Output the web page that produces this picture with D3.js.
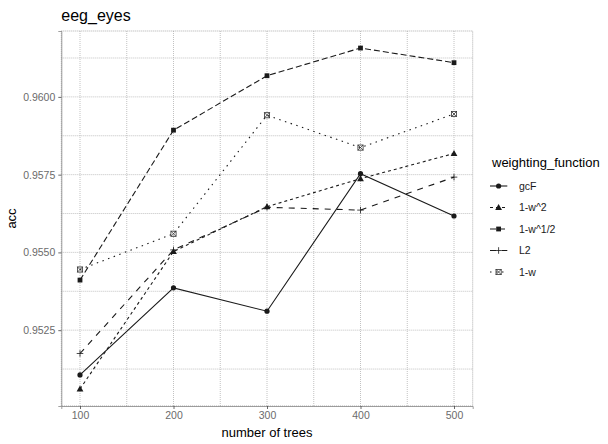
<!DOCTYPE html>
<html>
<head>
<meta charset="utf-8">
<script src="https://cdn.jsdelivr.net/npm/d3@7"></script>
<style>
  body { margin: 0; background: #fff; }
  text { font-family: "Liberation Sans", Arial, sans-serif; }
</style>
</head>
<body>
<script>
var trees = [100, 200, 300, 400, 500];
var seriesNames = ['gcF', '1-w^2', '1-w^1/2', 'L2', '1-w'];
var gcF = [0.95106, 0.95386, 0.95311, 0.95753, 0.95617];
var w2 = [0.95061, 0.95503, 0.95647, 0.95737, 0.95818];
var wHalf = [0.95411, 0.95893, 0.96068, 0.96157, 0.96110];
var l2 = [0.95175, 0.95508, 0.95645, 0.95636, 0.95742];
var w1 = [0.95445, 0.95560, 0.95941, 0.95837, 0.95945];
var yTicks = [0.9525, 0.9550, 0.9575, 0.9600];
var yMinor = [0.95125, 0.95375, 0.95625, 0.95875, 0.96125];
var xTicks = [100, 200, 300, 400, 500];
var xMinor = [150, 250, 350, 450];

var allSeries = [gcF, w2, wHalf, l2, w1];
var dashes = [null, '3,3', '6,3', '6,6', '1.5,4.5'];
var shapes = ['circle', 'triangle', 'square', 'plus', 'squarecross'];
var ink = '#1a1a1a';

var width = 608, height = 444;
var panelLeft = 61.3, panelRight = 472.7, panelTop = 31, panelBottom = 406;

var svg = d3.select('body').append('svg')
    .attr('width', width)
    .attr('height', height);

var xExt = d3.extent(trees);
var xPad = (xExt[1] - xExt[0]) * 0.05;
var x = d3.scaleLinear().domain([xExt[0] - xPad, xExt[1] + xPad]).range([panelLeft, panelRight]);

var yExt = d3.extent(d3.merge(allSeries));
var yPad = (yExt[1] - yExt[0]) * 0.05;
var y = d3.scaleLinear().domain([yExt[0] - yPad, yExt[1] + yPad]).range([panelBottom, panelTop]);

// grid
var grid = svg.append('g');
grid.selectAll('.hg').data(yTicks.concat(yMinor)).enter().append('line')
    .attr('x1', panelLeft).attr('x2', panelRight)
    .attr('y1', (d) => y(d)).attr('y2', (d) => y(d))
    .attr('stroke', '#b3b3b3').attr('stroke-width', 0.8)
    .attr('stroke-dasharray', '1,1');
grid.selectAll('.vg').data(xTicks.concat(xMinor)).enter().append('line')
    .attr('y1', panelTop).attr('y2', panelBottom)
    .attr('x1', (d) => x(d)).attr('x2', (d) => x(d))
    .attr('stroke', '#b3b3b3').attr('stroke-width', 0.8)
    .attr('stroke-dasharray', '1,1');
grid.append('rect')
    .attr('x', panelLeft).attr('y', panelTop)
    .attr('width', panelRight - panelLeft).attr('height', panelBottom - panelTop)
    .attr('fill', 'none').attr('stroke', '#999')
    .attr('stroke-width', 0.8).attr('stroke-dasharray', '1,1');

// axes
var xAxis = svg.append('g')
    .attr('transform', `translate(0,${panelBottom})`)
    .call(d3.axisBottom(x).tickValues(xTicks).tickSize(3).tickPadding(3));
var yAxis = svg.append('g')
    .attr('transform', `translate(${panelLeft},0)`)
    .call(d3.axisLeft(y).tickValues(yTicks).tickSize(3).tickPadding(3)
        .tickFormat(d3.format('.4f')));
[xAxis, yAxis].forEach(function (a) {
    a.select('.domain').attr('stroke', '#888').attr('stroke-width', 0.8);
    a.selectAll('.tick line').attr('stroke', '#444').attr('stroke-width', 0.8);
    a.selectAll('.tick text').attr('fill', '#6b6b6b')
        .style('font-size', '10.5px')
        .style('font-family', '"Liberation Sans", Arial, sans-serif');
});

function drawShape(g, shape, cx, cy) {
    if (shape === 'circle') {
        g.append('circle').attr('cx', cx).attr('cy', cy).attr('r', 2.6).attr('fill', ink);
    } else if (shape === 'triangle') {
        g.append('path').attr('d', d3.symbol(d3.symbolTriangle, 20)())
            .attr('transform', `translate(${cx},${cy + 0.5})`).attr('fill', ink);
    } else if (shape === 'square') {
        g.append('rect').attr('x', cx - 2.4).attr('y', cy - 2.4)
            .attr('width', 4.8).attr('height', 4.8).attr('fill', ink);
    } else if (shape === 'plus') {
        g.append('path').attr('d', `M${cx - 3.3},${cy}H${cx + 3.3}M${cx},${cy - 3.3}V${cy + 3.3}`)
            .attr('stroke', ink).attr('stroke-width', 0.8);
    } else {
        g.append('rect').attr('x', cx - 2.6).attr('y', cy - 2.6)
            .attr('width', 5.2).attr('height', 5.2)
            .attr('fill', 'none').attr('stroke', '#333').attr('stroke-width', 0.8);
        g.append('path').attr('d', `M${cx - 2.6},${cy - 2.6}L${cx + 2.6},${cy + 2.6}M${cx - 2.6},${cy + 2.6}L${cx + 2.6},${cy - 2.6}`)
            .attr('stroke', '#333').attr('stroke-width', 0.8);
    }
}

// lines
var line = d3.line().x((d) => x(d[0])).y((d) => y(d[1]));
var marks = svg.append('g');
allSeries.forEach(function (vals, i) {
    var pts = trees.map((t, j) => [t, vals[j]]);
    marks.append('path')
        .datum(pts)
        .attr('d', line)
        .attr('fill', 'none')
        .attr('stroke', ink)
        .attr('stroke-width', 1.1)
        .attr('stroke-dasharray', dashes[i]);
});
allSeries.forEach(function (vals, i) {
    var g = marks.append('g');
    trees.forEach(function (t, j) {
        drawShape(g, shapes[i], x(t), y(vals[j]));
    });
});

// titles
svg.append('text').attr('x', panelLeft).attr('y', 21)
    .style('font-size', '16px').attr('fill', '#000').text('eeg_eyes');
svg.append('text').attr('x', (panelLeft + panelRight) / 2).attr('y', 437)
    .attr('text-anchor', 'middle').style('font-size', '13px').attr('fill', '#000')
    .text('number of trees');
svg.append('text').attr('transform', `translate(16,${(panelTop + panelBottom) / 2}) rotate(-90)`)
    .attr('text-anchor', 'middle').style('font-size', '13px').attr('fill', '#000')
    .text('acc');

// legend
var legend = svg.append('g');
legend.append('text').attr('x', 492).attr('y', 167)
    .style('font-size', '13px').attr('fill', '#000').text('weighting_function');
var legendY = [186, 207.5, 229, 250.5, 272];
seriesNames.forEach(function (name, i) {
    var ly = legendY[i];
    var g = legend.append('g');
    g.append('line').attr('x1', 490).attr('x2', 507.3)
        .attr('y1', ly).attr('y2', ly)
        .attr('stroke', ink).attr('stroke-width', 1.1)
        .attr('stroke-dasharray', dashes[i]);
    drawShape(g, shapes[i], 498.6, ly);
    g.append('text').attr('x', 519).attr('y', ly + 3.8)
        .style('font-size', '10.5px').attr('fill', '#1a1a1a').text(name);
});
</script>
</body>
</html>
